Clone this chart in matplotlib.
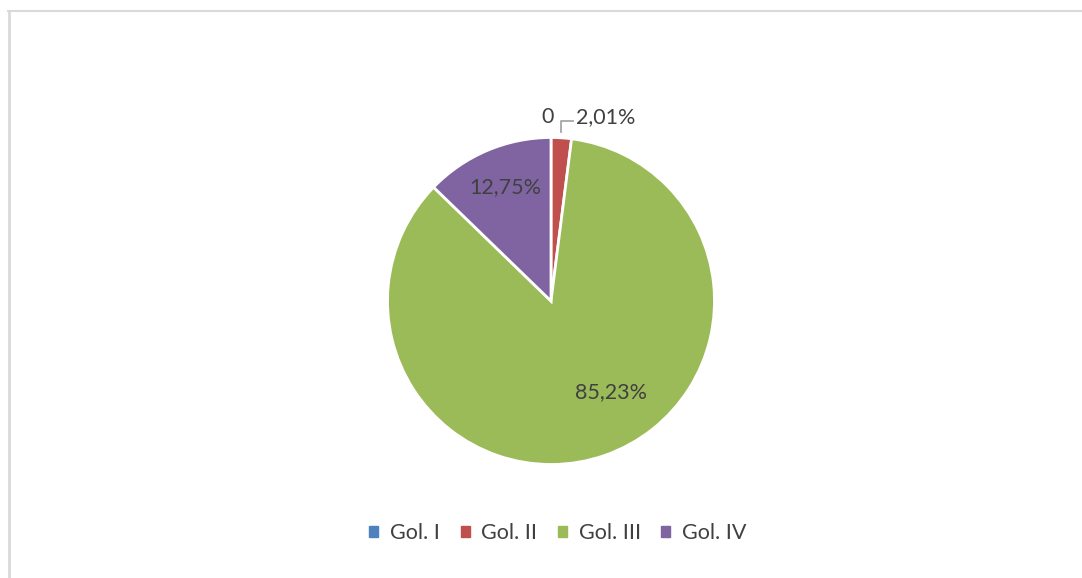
import numpy as np
import matplotlib.pyplot as plt

# data
kategori = ["Gol. I", "Gol. II", "Gol. III", "Gol. IV"]
persen = [0, 2.01, 85.23, 12.75]
label_teks = ["0", "2,01%", "85,23%", "12,75%"]
warna = ["#4F81BD", "#C0504D", "#9BBB59", "#8064A2"]

plt.rcParams['font.family'] = ['Lato', 'DejaVu Sans']
abu = "#404040"
fs = 15.5

W, H = 1082, 578
fig = plt.figure(figsize=(W / 100, H / 100), dpi=100)
ax = fig.add_axes([0, 0, 1, 1])

cx, cy, R = 551, H - 301, 163.5
wedges, _ = ax.pie(persen, colors=warna, startangle=90, counterclock=False,
                   center=(cx, cy), radius=R, frame=True,
                   wedgeprops=dict(edgecolor="white", linewidth=2))
ax.set_xlim(0, W)
ax.set_ylim(0, H)
ax.set_aspect("equal")
ax.axis("off")

# labels inside slices (Gol. III and Gol. IV)
for i, (ang_off, frac) in {2: (14, 0.67), 3: (-1, 0.75)}.items():
    w = wedges[i]
    mid = np.deg2rad((w.theta1 + w.theta2) / 2 + ang_off)
    ax.text(cx + frac * R * np.cos(mid), cy + frac * R * np.sin(mid), label_teks[i],
            ha="center", va="center", fontsize=fs, color=abu)

# labels outside for tiny slices
w = wedges[1]
top = np.deg2rad((w.theta1 + w.theta2) / 2)
x0, y0 = cx + R * np.cos(top), cy + R * np.sin(top)
ax.plot([x0, x0, x0 + 12], [y0 + 6, y0 + 17, y0 + 17], color="#A6A6A6", lw=1.3)
ax.text(x0 + 15, y0 + 21, label_teks[1], ha="left", va="center", fontsize=fs, color=abu)
ax.text(x0 - 8, y0 + 21, label_teks[0], ha="right", va="center", fontsize=fs, color=abu)

# chart border (top and left visible)
ax.plot([8, W], [H - 10.5, H - 10.5], color="#D9D9D9", lw=1.5)
ax.plot([9, 9], [0, H - 10.5], color="#D9D9D9", lw=2)

handles = [plt.Rectangle((0, 0), 1, 1, color=c) for c in warna]
fig.legend(handles, kategori, loc="center", ncol=4, frameon=False,
           bbox_to_anchor=(558 / W, 1 - 533 / H), fontsize=fs,
           handlelength=0.42, handleheight=0.42, handletextpad=0.55,
           columnspacing=0.95, labelcolor=abu)

fig.savefig("out.png", dpi=100)
